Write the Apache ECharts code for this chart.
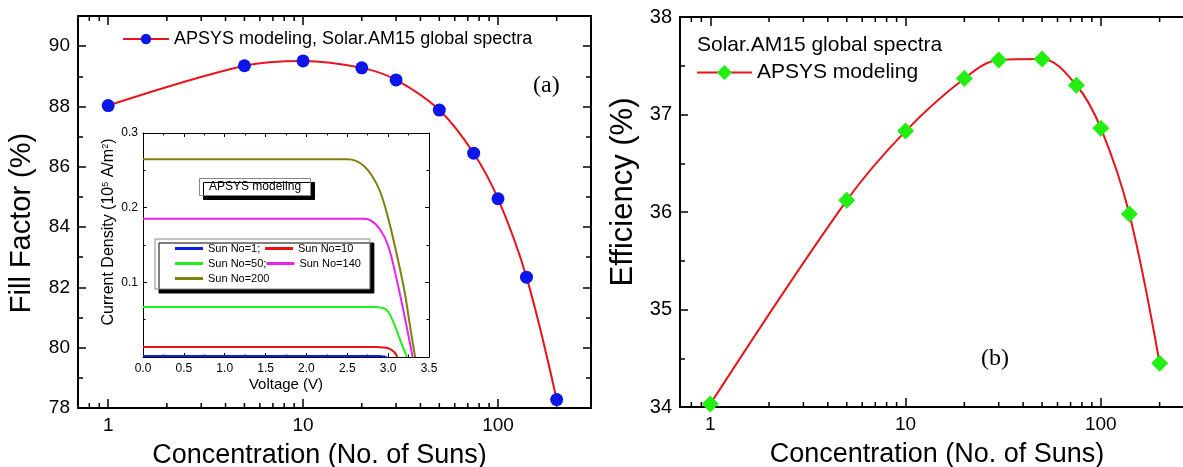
<!DOCTYPE html>
<html>
<head>
<meta charset="utf-8">
<script src="https://cdn.jsdelivr.net/npm/echarts@6/dist/echarts.min.js"></script>
<style>
  html, body { margin: 0; padding: 0; background: #fff; }
  #main { width: 1183px; height: 467px; }
</style>
</head>
<body>
<div id="main"></div>
<script>
// concentration (No. of suns) shared by both panels
const suns = [1, 5, 10, 20, 30, 50, 75, 100, 140, 200];
const fillFactor = [88.03, 89.35, 89.51, 89.28, 88.88, 87.88, 86.45, 84.94, 82.34, 78.28];
const efficiency = [34.03, 36.12, 36.83, 37.37, 37.56, 37.57, 37.30, 36.86, 35.98, 34.45];
const sunTickLabels = [1, 10, 100];
const sunMinorTicks = [0.8, 0.9, 2, 3, 4, 5, 6, 7, 8, 9, 20, 30, 40, 50, 60, 70, 80, 90, 200, 300];

// inset: J-V curves (voltage in V, current density in 1e5 A/m2)
const sun1V = [0, 2.4, 2.8, 2.9, 2.95, 2.98];
const sun1J = [0.0015, 0.0015, 0.0015, 0.0012, 0.0006, 0];
const sun10V = [0, 2.4, 2.85, 2.95, 3.02, 3.08, 3.11];
const sun10J = [0.0133, 0.0133, 0.0133, 0.0128, 0.011, 0.006, 0];
const sun50V = [0, 2.4, 2.85, 2.95, 3.0, 3.07, 3.15, 3.23];
const sun50J = [0.067, 0.067, 0.067, 0.065, 0.061, 0.045, 0.022, 0];
const sun140V = [0, 2.3, 2.7, 2.8, 2.9, 3.0, 3.1, 3.2, 3.3];
const sun140J = [0.185, 0.185, 0.185, 0.182, 0.171, 0.149, 0.106, 0.055, 0];
const sun200V = [0, 2.2, 2.5, 2.6, 2.7, 2.8, 2.9, 3.0, 3.1, 3.2, 3.27, 3.33];
const sun200J = [0.265, 0.265, 0.265, 0.263, 0.256, 0.243, 0.222, 0.186, 0.140, 0.088, 0.040, 0];

const FONT = 'Liberation Sans';
const RED = '#e8141c';

function pairs(xs, ys) {
  return xs.map((x, i) => [x, ys[i]]);
}

function logAxis(gridIndex, position, extra) {
  return Object.assign({
    type: 'log', gridIndex: gridIndex, position: position, min: 0.7, max: 300,
    axisLine: { show: true, onZero: false, lineStyle: { color: '#000', width: 2 } },
    axisTick: { show: true, inside: true, length: 9, lineStyle: { color: '#000', width: 1.5 } },
    axisLabel: {
      show: position === 'bottom', color: '#000', fontFamily: FONT, fontSize: 19, margin: 8,
      formatter: v => sunTickLabels.indexOf(Math.round(v * 1000) / 1000) >= 0 ? String(Math.round(v)) : ''
    },
    splitLine: { show: false }
  }, extra);
}

function valAxis(gridIndex, position, min, max, interval, fontSize, extra) {
  return Object.assign({
    type: 'value', gridIndex: gridIndex, position: position, min: min, max: max, interval: interval,
    axisLine: { show: true, onZero: false, lineStyle: { color: '#000', width: 2 } },
    axisTick: { show: true, inside: true, length: 8, lineStyle: { color: '#000', width: 1.5 } },
    minorTick: { show: true, splitNumber: 2, length: 5, lineStyle: { color: '#000', width: 1.5 } },
    axisLabel: { show: position === 'left' || position === 'bottom', color: '#000', fontFamily: FONT, fontSize: fontSize, margin: 8, showMaxLabel: false },
    splitLine: { show: false }
  }, extra);
}

// thin frame for the inset axes
const insetFrame = {
  axisLine: { show: true, onZero: false, lineStyle: { color: '#000', width: 1 } },
  axisTick: { show: true, inside: true, length: 4, lineStyle: { color: '#000', width: 1 } },
  minorTick: { show: true, splitNumber: 2, length: 2.5, lineStyle: { color: '#000', width: 1 } }
};

// minor decade ticks on the log axes (bottom and top edges)
function minorTicks(xAxisIndex, yAxisIndex, yMin) {
  return {
    type: 'custom', xAxisIndex: xAxisIndex, yAxisIndex: yAxisIndex, silent: true,
    data: sunMinorTicks.map(v => [v, yMin]),
    renderItem: function (params, api) {
      const x = api.coord([api.value(0), api.value(1)])[0];
      const cs = params.coordSys;
      const st = { stroke: '#000', lineWidth: 1.5 };
      return {
        type: 'group', children: [
          { type: 'line', shape: { x1: x, y1: cs.y + cs.height, x2: x, y2: cs.y + cs.height - 5 }, style: st },
          { type: 'line', shape: { x1: x, y1: cs.y, x2: x, y2: cs.y + 5 }, style: st }
        ]
      };
    }
  };
}

function insetLine(name, color, xs, ys) {
  return {
    name: name, type: 'line', xAxisIndex: 2, yAxisIndex: 2, data: pairs(xs, ys),
    smooth: 0.4, symbol: 'none', lineStyle: { color: color, width: 2 }, itemStyle: { color: color }
  };
}

const chart = echarts.init(document.getElementById('main'));

const option = {
  animation: false,
  backgroundColor: '#fff',
  textStyle: { fontFamily: FONT },
  grid: [
    { left: 78, top: 16, width: 513, height: 392, outerBoundsMode: 'none' },
    { left: 143, top: 133, width: 286, height: 224, outerBoundsMode: 'none' },
    { left: 680, top: 17, width: 514, height: 390, outerBoundsMode: 'none' }
  ],
  title: [{
    text: 'APSYS modeling', left: 199, top: 178,
    padding: [3, 10, 3, 10],
    backgroundColor: '#fff', borderColor: '#888', borderWidth: 1,
    shadowColor: '#000', shadowBlur: 0, shadowOffsetX: 4, shadowOffsetY: 4,
    textStyle: { fontFamily: FONT, fontSize: 12, fontWeight: 'normal', color: '#000' }
  }],
  legend: [
    {
      data: ['APSYS modeling, Solar.AM15 global spectra'], selectedMode: false,
      left: 122, top: 30, itemWidth: 46, itemHeight: 13, padding: 0,
      textStyle: { fontFamily: FONT, fontSize: 18, color: '#000' }
    },
    {
      data: ['Sun No=1;', 'Sun No=10', 'Sun No=50;', 'Sun No=140', 'Sun No=200'], selectedMode: false,
      orient: 'horizontal', left: 155, top: 239, width: 200,
      icon: 'rect', itemWidth: 28, itemHeight: 3, itemGap: 0,
      padding: [2, 9, 3, 20],
      backgroundColor: '#fff', borderColor: '#888', borderWidth: 1,
      shadowColor: '#000', shadowBlur: 0, shadowOffsetX: 4, shadowOffsetY: 4,
      formatter: name => '{w|' + name + '}',
      textStyle: {
        fontFamily: FONT, fontSize: 11, lineHeight: 15, color: '#000',
        rich: { w: { fontFamily: FONT, fontSize: 11, lineHeight: 15, width: 57, color: '#000' } }
      }
    },
    {
      data: ['APSYS modeling'], selectedMode: false,
      left: 696, top: 62, itemWidth: 55, itemHeight: 19, padding: 0,
      textStyle: { fontFamily: FONT, fontSize: 21, color: '#000' }
    }
  ],
  xAxis: [
    logAxis(0, 'bottom', {
      name: 'Concentration (No. of Suns)', nameLocation: 'middle', nameGap: 34,
      nameTextStyle: { fontFamily: FONT, fontSize: 27, color: '#000', padding: [0, 30, 0, 0] }
    }),
    logAxis(0, 'top'),
    valAxis(1, 'bottom', 0, 3.5, 0.5, 12, Object.assign({}, insetFrame, {
      axisLabel: { color: '#000', fontFamily: FONT, fontSize: 12, margin: 6, formatter: v => v.toFixed(1) },
      name: 'Voltage (V)', nameLocation: 'middle', nameGap: 20,
      nameTextStyle: { fontFamily: FONT, fontSize: 15, color: '#000' }
    })),
    valAxis(1, 'top', 0, 3.5, 0.5, 12, insetFrame),
    logAxis(2, 'bottom', {
      name: 'Concentration (No. of Suns)', nameLocation: 'middle', nameGap: 34,
      nameTextStyle: { fontFamily: FONT, fontSize: 27, color: '#000' }
    }),
    logAxis(2, 'top')
  ],
  yAxis: [
    valAxis(0, 'left', 78, 91, 2, 19, {
      name: 'Fill Factor (%)', nameLocation: 'middle', nameGap: 42,
      nameTextStyle: { fontFamily: FONT, fontSize: 29, color: '#000', padding: [0, 22, 0, 0] }
    }),
    valAxis(0, 'right', 78, 91, 2, 19),
    valAxis(1, 'left', 0, 0.3, 0.1, 12, Object.assign({}, insetFrame, {
      axisLabel: { color: '#000', fontFamily: FONT, fontSize: 12, margin: 5, showMinLabel: false, formatter: v => v.toFixed(1) },
      name: 'Current Density (10{sup|5} A/m{sup|2})', nameLocation: 'middle', nameGap: 26,
      nameTextStyle: {
        fontFamily: FONT, fontSize: 16, color: '#000', padding: [0, 0, 0, 26],
        rich: { sup: { fontFamily: FONT, fontSize: 9, verticalAlign: 'top', color: '#000' } }
      }
    })),
    valAxis(1, 'right', 0, 0.3, 0.1, 12, insetFrame),
    valAxis(2, 'left', 34, 38, 1, 20, {
      name: 'Efficiency (%)', nameLocation: 'middle', nameGap: 41,
      axisLabel: { color: '#000', fontFamily: FONT, fontSize: 20, margin: 8 },
      nameTextStyle: { fontFamily: FONT, fontSize: 31, color: '#000', padding: [0, 0, 0, 40] }
    }),
    valAxis(2, 'right', 34, 38, 1, 20)
  ],
  graphic: [
    { type: 'text', left: 533, top: 74, style: { text: '(a)', font: '24px "Liberation Serif"', fill: '#000' } },
    { type: 'text', left: 981, top: 347, style: { text: '(b)', font: '24px "Liberation Serif"', fill: '#000' } },
    { type: 'text', left: 697, top: 35, style: { text: 'Solar.AM15 global spectra', font: '21px "Liberation Sans"', fill: '#000' } }
  ],
  series: [
    {
      name: 'APSYS modeling, Solar.AM15 global spectra', type: 'line', xAxisIndex: 0, yAxisIndex: 0,
      data: pairs(suns, fillFactor), smooth: 0.35,
      symbol: 'circle', symbolSize: 13,
      itemStyle: { color: '#0b16e8' }, lineStyle: { color: RED, width: 2 }, z: 5
    },
    minorTicks(0, 0, 78),
    insetLine('Sun No=1;', '#0a1ef0', sun1V, sun1J),
    insetLine('Sun No=10', '#ee1111', sun10V, sun10J),
    insetLine('Sun No=50;', '#22ee22', sun50V, sun50J),
    insetLine('Sun No=140', '#ee22ee', sun140V, sun140J),
    insetLine('Sun No=200', '#808010', sun200V, sun200J),
    {
      name: 'APSYS modeling', type: 'line', xAxisIndex: 4, yAxisIndex: 4,
      data: pairs(suns, efficiency), smooth: 0.35,
      symbol: 'diamond', symbolSize: 17,
      itemStyle: { color: '#22ee11' }, lineStyle: { color: RED, width: 2 }, z: 5
    },
    minorTicks(4, 4, 34)
  ]
};

chart.setOption(option);
</script>
</body>
</html>
